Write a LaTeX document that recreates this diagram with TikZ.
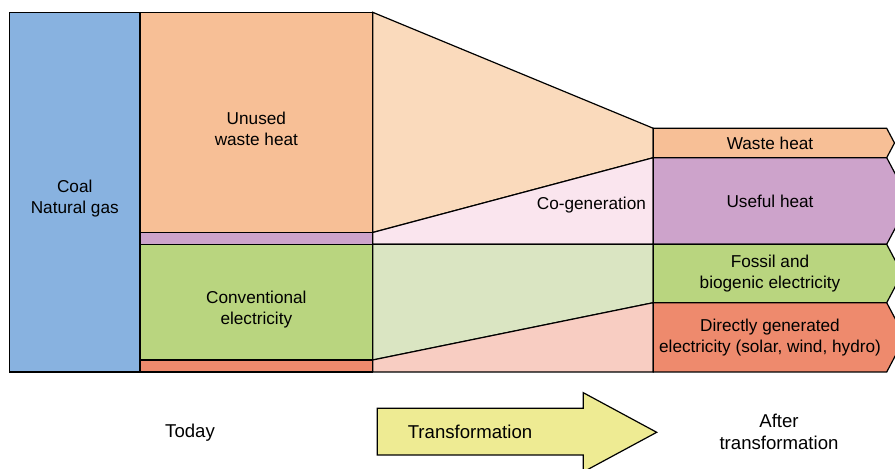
\documentclass[tikz,border=0pt]{standalone}
\usepackage{fontspec}
\setmainfont{Liberation Sans}
\usetikzlibrary{positioning,calc,backgrounds}
\definecolor{fossilblue}{RGB}{136,178,224}
\definecolor{wasteorange}{RGB}{247,191,150}
\definecolor{heatpurple}{RGB}{205,163,203}
\definecolor{elecgreen}{RGB}{185,213,127}
\definecolor{renewred}{RGB}{238,138,109}
\definecolor{flowwaste}{RGB}{250,218,188}
\definecolor{flowheat}{RGB}{250,229,238}
\definecolor{flowelec}{RGB}{218,229,194}
\definecolor{flowrenew}{RGB}{248,205,194}
\definecolor{arrowyellow}{RGB}{238,235,147}

\begin{document}
\begin{tikzpicture}[x=0.5pt, y=-0.5pt,
  every node/.style={font=\fontsize{8.6}{10.5}\selectfont},
  bar/.style={draw=black, line width=0.6pt, fill=#1, inner sep=0pt, outer sep=0pt,
              anchor=north west},
  slot/.style={inner sep=0pt, outer sep=0pt, anchor=north west,
               minimum width=116.7pt, align=center},
  txt/.style={align=center, inner sep=1pt},
  caption/.style={txt, font=\fontsize{9.3}{11}\selectfont},
  flow/.style={draw=black, line width=0.6pt, fill=#1, line join=miter},
]
\useasboundingbox (0,0) rectangle (895,469);

% today
\node[bar=fossilblue, minimum width=65.25pt, minimum height=179.85pt] (coal) at (9.5,12.3) {};
\node[bar=wasteorange, minimum width=116.35pt, minimum height=110.1pt] (waste) at (140,12.3) {};
\node[bar=heatpurple, minimum width=116.35pt, minimum height=5.9pt] (chp) at (waste.south west) {};
\node[bar=elecgreen, minimum width=116.35pt, minimum height=57.85pt] (conv) at (chp.south west) {};
\node[bar=renewred, minimum width=116.35pt, minimum height=6pt] (renew) at (conv.south west) {};

\node[txt] (coallbl) at ([yshift=-3.2pt]coal.center) {Coal\\Natural gas};
\node[txt] (wastelbl) at ([yshift=-3pt]waste.center) {Unused\\waste heat};
\node[txt] (convlbl) at ([yshift=-3.8pt]conv.center) {Conventional\\electricity};

% after transformation
\node[slot, minimum height=14.7pt] (wasteout) at (653.3,128.3) {Waste heat};
\node[slot, minimum height=43.3pt] (useful) at (wasteout.south west) {Useful heat};
\node[slot, minimum height=29.2pt] (fossil) at (useful.south west) {Fossil and\\biogenic electricity};
\node[slot, minimum height=34.65pt] (direct) at (fossil.south west)
    {Directly generated\\electricity (solar, wind, hydro)};

\begin{scope}[on background layer]
  \draw[flow=flowwaste] (waste.north east) -- (wasteout.north west)
      -- (wasteout.south west) -- (waste.south east) -- cycle;
  \draw[flow=flowheat] (chp.north east) -- (useful.north west)
      -- (useful.south west) -- (chp.south east) -- cycle;
  \draw[flow=flowelec] (conv.north east) -- (fossil.north west)
      -- (fossil.south west) -- (conv.south east) -- cycle;
  \draw[flow=flowrenew] (renew.north east) -- (direct.north west)
      -- (direct.south west) -- (renew.south east) -- cycle;
  \foreach \b/\c in {wasteout/wasteorange, useful/heatpurple, fossil/elecgreen, direct/renewred}
    \draw[flow=\c] let \p1=(\b.north east), \p2=(\b.south east) in
      (\b.north west) -- (\p1) -- (\x1+0.265*\y1-0.265*\y2, 0.5*\y1+0.5*\y2)
      -- (\p2) -- (\b.south west) -- cycle;
\end{scope}

\node[txt, anchor=east] (cogen) at ([xshift=-2.5pt, yshift=-2pt]useful.west) {Co-generation};

% bottom row
\node[caption] (today) at (190,432.5) {Today};
\draw[flow=arrowyellow] (377.3,408.3) -- (583.3,408.3) -- (583.3,392.7) -- (656.7,432.3)
    -- (583.3,471.9) -- (583.3,455) -- (377.3,455) -- cycle;
\node[caption] (translbl) at (470,432) {Transformation};
\node[caption] (after) at (779,432) {After\\transformation};
\end{tikzpicture}
\end{document}
